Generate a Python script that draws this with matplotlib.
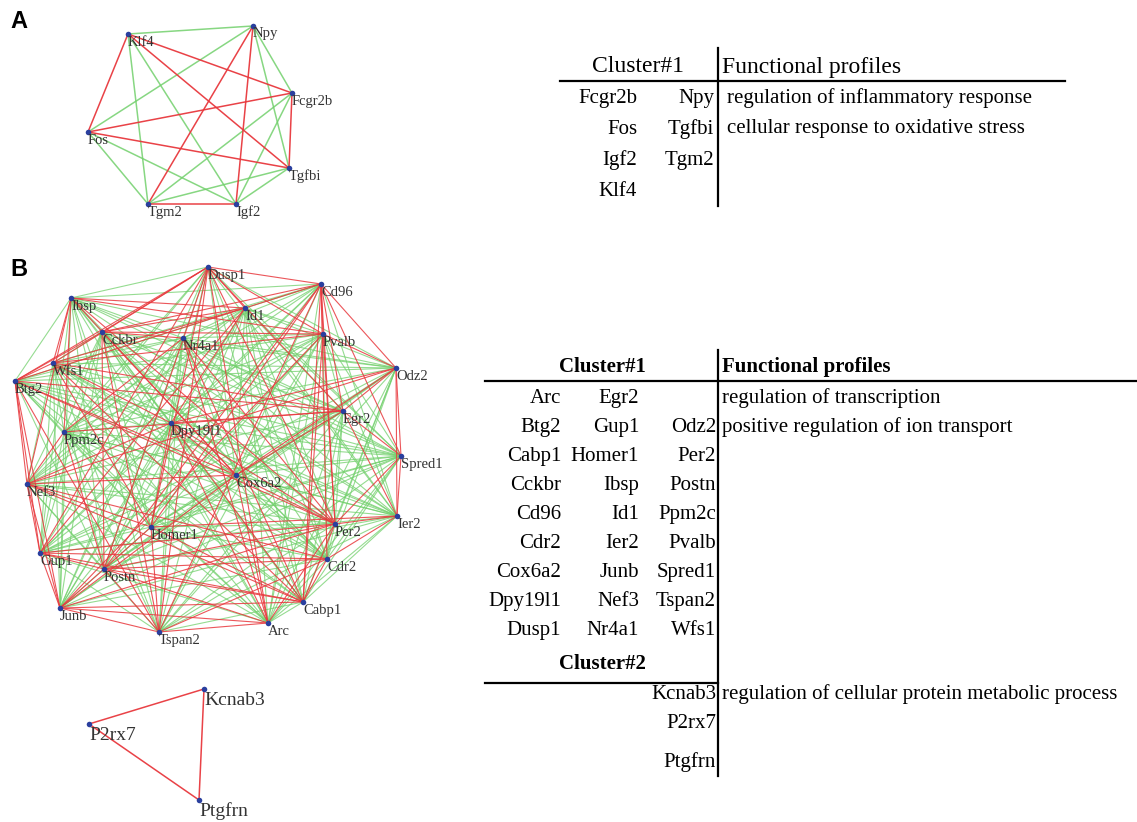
import matplotlib
matplotlib.use("Agg")
import matplotlib.pyplot as plt
from itertools import combinations

# --- panel A network: node positions (px) and red edges, every other pair is green
nodes_a = ["Klf4", "Npy", "Fcgr2b", "Fos", "Tgfbi", "Tgm2", "Igf2"]
xy_a = [(128, 34), (253, 26), (292, 93), (88, 132), (289, 168), (148, 204), (236, 204)]
red_a = [("Klf4", "Fos"), ("Klf4", "Fcgr2b"), ("Klf4", "Tgfbi"), ("Npy", "Tgm2"),
         ("Npy", "Igf2"), ("Fos", "Fcgr2b"), ("Fos", "Tgfbi"), ("Fcgr2b", "Tgfbi"),
         ("Tgm2", "Igf2")]

# --- panel B network, cluster 1
nodes_b = ["Dusp1", "Cd96", "Ibsp", "Id1", "Cckbr", "Nr4a1", "Pvalb", "Wfs1", "Btg2",
           "Odz2", "Egr2", "Dpy19l1", "Ppm2c", "Spred1", "Cox6a2", "Nef3", "Ier2",
           "Homer1", "Per2", "Gup1", "Cdr2", "Postn", "Cabp1", "Junb", "Arc", "Tspan2"]
xy_b = [(208, 267), (321, 284), (71, 298), (245, 308), (102, 332), (183, 338),
        (323, 334), (53, 363), (15, 381), (396, 368), (343, 411), (171, 423),
        (64, 432), (401, 456), (236, 475), (27, 484), (397, 516), (151, 527),
        (335, 524), (40, 553), (327, 559), (104, 569), (303, 602), (60, 608),
        (268, 623), (159, 632)]
red_b = {
    "Btg2": ["Wfs1", "Cckbr", "Dusp1", "Id1", "Nef3", "Gup1", "Egr2", "Per2", "Cox6a2"],
    "Ibsp": ["Wfs1", "Ppm2c", "Id1", "Pvalb", "Nef3", "Cox6a2"],
    "Dusp1": ["Cckbr", "Wfs1", "Cd96", "Id1", "Pvalb", "Homer1", "Per2", "Egr2", "Gup1", "Arc"],
    "Cd96": ["Pvalb", "Cabp1", "Id1", "Cckbr", "Homer1", "Cdr2", "Tspan2", "Postn", "Egr2", "Per2"],
    "Odz2": ["Ier2", "Spred1", "Pvalb", "Cd96", "Egr2", "Cox6a2", "Dpy19l1"],
    "Spred1": ["Ier2", "Per2", "Egr2", "Cd96"],
    "Ier2": ["Per2", "Cdr2", "Egr2", "Homer1"],
    "Cabp1": ["Pvalb", "Per2", "Cdr2", "Postn", "Homer1", "Nef3", "Gup1", "Wfs1"],
    "Arc": ["Tspan2", "Cox6a2", "Per2", "Dpy19l1", "Postn", "Junb", "Nr4a1"],
    "Tspan2": ["Junb", "Postn", "Homer1", "Cckbr", "Btg2", "Cdr2", "Dusp1"],
    "Junb": ["Nef3", "Gup1", "Btg2", "Postn", "Pvalb", "Cox6a2", "Per2", "Cabp1"],
    "Gup1": ["Nef3", "Postn", "Per2", "Cdr2", "Id1"],
    "Nef3": ["Ppm2c", "Dpy19l1", "Homer1", "Cdr2", "Odz2"],
    "Postn": ["Homer1", "Ppm2c", "Cckbr", "Dusp1", "Cdr2", "Per2"],
    "Homer1": ["Dpy19l1", "Wfs1"],
    "Cox6a2": ["Dpy19l1", "Cckbr", "Egr2", "Per2", "Nef3"],
    "Dpy19l1": ["Wfs1", "Id1", "Per2", "Cabp1", "Egr2"],
    "Egr2": ["Ppm2c", "Wfs1"],
    "Per2": ["Pvalb", "Ibsp"],
    "Pvalb": ["Wfs1", "Cckbr"],
    "Id1": ["Cckbr", "Wfs1"],
    "Nr4a1": ["Cckbr", "Ppm2c", "Per2", "Cabp1"],
}

# --- panel B network, cluster 2 (all red)
nodes_c = ["Kcnab3", "P2rx7", "Ptgfrn"]
xy_c = [(204, 689), (89, 724), (199, 800)]

# --- tables
tab_a_col1 = ["Fcgr2b", "Fos", "Igf2", "Klf4"]
tab_a_col2 = ["Npy", "Tgfbi", "Tgm2", ""]
tab_a_func = ["regulation of inflammatory response", "cellular response to oxidative stress"]

tab_b_col1 = ["Arc", "Btg2", "Cabp1", "Cckbr", "Cd96", "Cdr2", "Cox6a2", "Dpy19l1", "Dusp1"]
tab_b_col2 = ["Egr2", "Gup1", "Homer1", "Ibsp", "Id1", "Ier2", "Junb", "Nef3", "Nr4a1"]
tab_b_col3 = ["", "Odz2", "Per2", "Postn", "Ppm2c", "Pvalb", "Spred1", "Tspan2", "Wfs1"]
tab_b_func = ["regulation of transcription", "positive regulation of ion transport"]
tab_c_genes = ["Kcnab3", "P2rx7", "Ptgfrn"]
tab_c_func = ["regulation of cellular protein metabolic process"]

RED = "#e8383d"
GREEN = "#72d06c"
NODE = "#2a3f9e"
serif = "Liberation Serif"
FS = 15

fig = plt.figure(figsize=(11.37, 8.22), dpi=100)
ax = fig.add_axes([0, 0, 1, 1])
ax.set_xlim(0, 1137)
ax.set_ylim(822, 0)
ax.axis("off")


def draw_net(names, pos, red_pairs, lw, alpha, fs, dy, green=True):
    p = dict(zip(names, pos))
    reds = set(frozenset(e) for e in red_pairs)
    pairs = list(combinations(names, 2))
    if green:
        for a, b in pairs:
            if frozenset((a, b)) not in reds:
                ax.plot([p[a][0], p[b][0]], [p[a][1], p[b][1]], color=GREEN,
                        lw=lw, alpha=alpha, zorder=1)
    for a, b in pairs:
        if frozenset((a, b)) in reds:
            ax.plot([p[a][0], p[b][0]], [p[a][1], p[b][1]], color=RED,
                    lw=lw, alpha=min(1, alpha + 0.1), zorder=2)
    xs = [q[0] for q in pos]
    ys = [q[1] for q in pos]
    ax.scatter(xs, ys, s=16, color=NODE, zorder=4, linewidths=0)
    for n, (x, y) in zip(names, pos):
        ax.text(x, y + dy, n, fontsize=fs, family=serif, color="#333333",
                ha="left", va="center", zorder=5)


draw_net(nodes_a, xy_a, red_a, 1.1, 0.85, 10.5, 8)
red_pairs_b = [(k, v) for k, vs in red_b.items() for v in vs]
draw_net(nodes_b, xy_b, red_pairs_b, 0.8, 0.75, 10.5, 8)
draw_net(nodes_c, xy_c, list(combinations(nodes_c, 2)), 1.1, 0.85, 14, 11, green=False)

# panel letters
ax.text(10, 22, "A", fontsize=17, fontweight="bold", family="Liberation Sans", va="center")
ax.text(10, 269, "B", fontsize=17, fontweight="bold", family="Liberation Sans", va="center")

# table A
ax.text(638, 67, "Cluster#1", fontsize=17, family=serif, ha="center", va="center")
ax.text(722, 67, "Functional profiles", fontsize=17, family=serif, ha="left", va="center")
ax.plot([560, 1065], [81, 81], color="black", lw=1.6)
ax.plot([718, 718], [48, 206], color="black", lw=1.6)
for i, (g1, g2) in enumerate(zip(tab_a_col1, tab_a_col2)):
    y = 98 + 31 * i
    ax.text(637, y, g1, fontsize=FS, family=serif, ha="right", va="center")
    ax.text(714, y, g2, fontsize=FS, family=serif, ha="right", va="center")
for i, f in enumerate(tab_a_func):
    ax.text(727, 98 + 31 * i, f, fontsize=FS, family=serif, ha="left", va="center")

# table B
ax.text(602, 367, "Cluster#1", fontsize=FS, family=serif, fontweight="bold", ha="center", va="center")
ax.text(722, 367, "Functional profiles", fontsize=FS, family=serif, fontweight="bold",
        ha="left", va="center")
ax.plot([485, 1137], [381, 381], color="black", lw=1.6)
ax.plot([718, 718], [350, 776], color="black", lw=1.6)
for i, (g1, g2, g3) in enumerate(zip(tab_b_col1, tab_b_col2, tab_b_col3)):
    y = 398 + 29 * i
    ax.text(561, y, g1, fontsize=FS, family=serif, ha="right", va="center")
    ax.text(639, y, g2, fontsize=FS, family=serif, ha="right", va="center")
    ax.text(716, y, g3, fontsize=FS, family=serif, ha="right", va="center")
for i, f in enumerate(tab_b_func):
    ax.text(722, 398 + 29 * i, f, fontsize=FS, family=serif, ha="left", va="center")

ax.text(602, 664, "Cluster#2", fontsize=FS, family=serif, fontweight="bold", ha="center", va="center")
ax.plot([485, 718], [683, 683], color="black", lw=1.6)
for g, y in zip(tab_c_genes, [694, 723, 762]):
    ax.text(716, y, g, fontsize=FS, family=serif, ha="right", va="center")
ax.text(722, 694, tab_c_func[0], fontsize=FS, family=serif, ha="left", va="center")

fig.savefig("out.png", dpi=100)
